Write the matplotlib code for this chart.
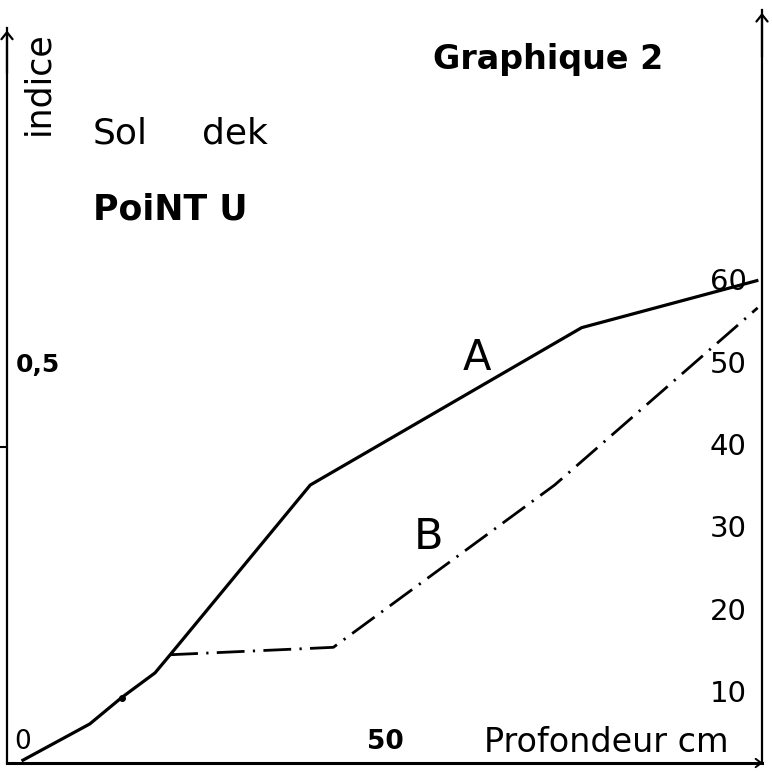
import numpy as np
import matplotlib
matplotlib.use("Agg")
import matplotlib.pyplot as plt

# depth (cm) vs value (right-hand scale, 0-60 ; indice = value / 100)
depth_A = [2.0, 10.4, 14.4, 18.6, 20.5, 38.1, 72.2, 94.2]
val_A = [2.0, 6.4, 9.6, 12.6, 14.8, 35.4, 54.5, 60.2]
depth_B = [20.5, 41.0, 68.8, 94.3]
val_B = [14.8, 15.7, 35.4, 56.9]

right_ticks = [10, 20, 30, 40, 50, 60]
right_labels = ["10", "20", "30", "40", "50", "60"]
left_tick = 0.4
left_label_val = 0.5
left_label = "0,5"
depth_label_val = 50

plt.rcParams['font.family'] = ['DejaVu Sans']

W = 772
fig = plt.figure(figsize=(7.72, 7.72), dpi=100)
ax = fig.add_axes([7 / W, 9 / W, 755 / W, 753 / W])
ax.set_xlim(0, 94.85)
ax.set_ylim(1.66, 93.05)

# axes
ax.spines['top'].set_visible(False)
for s in ['left', 'right']:
    ax.spines[s].set_linewidth(1.6)
ax.spines['bottom'].set_linewidth(2.2)
ax.spines['left'].set_bounds(1.66, 90.9)
ax.set_xticks([])
ax.set_yticks([left_tick * 100])
ax.set_yticklabels([])
ax.yaxis.set_ticks_position('left')
ax.tick_params(axis='y', direction='out', length=5, width=1.5)

arrow = dict(arrowstyle='->,head_length=0.5,head_width=0.4', lw=1.6, color='black')
ax.annotate('', xy=(0, 90.9), xytext=(0, 85), arrowprops=arrow, annotation_clip=False)
ax.annotate('', xy=(94.85, 93.05), xytext=(94.85, 87), arrowprops=arrow, annotation_clip=False)
ax.annotate('', xy=(95.3, 1.66), xytext=(92, 1.66),
            arrowprops=dict(arrowstyle='->,head_length=0.4,head_width=0.3', lw=1.4, color='black'),
            annotation_clip=False)

# curves
ax.plot(depth_A, val_A, color='black', lw=2.3, marker='o', markersize=4, markevery=[2],
        solid_joinstyle='round', clip_on=False)
ax.plot(depth_B, val_B, color='black', lw=2.0, linestyle=(0, (10, 3, 0.8, 3)), clip_on=False)

# right-hand scale labels
ytr = ax.get_yaxis_transform()
for v, lab in zip(right_ticks, right_labels):
    ax.text(0.955, v, lab, transform=ytr, ha='center', va='center', fontsize=21)
ax.text(0.011, left_label_val * 100, left_label, transform=ytr, ha='left', va='center',
        fontsize=18, fontweight='bold')

# bottom labels
ax.text(2.0, 4.2, "0", ha='center', va='center', fontsize=19)
ax.text(depth_label_val - 2.5, 4.2, "50", ha='center', va='center', fontsize=19, fontweight='bold')
ax.text(0.794, 4.2, "Profondeur cm", transform=ytr, ha='center', va='center', fontsize=24)

# titles / annotations
fig.text(38 / W, 1 - 83 / W, "indice", rotation=90, ha='center', va='center', fontsize=25)
fig.text(548 / W, 1 - 60 / W, "Graphique 2", ha='center', va='center', fontsize=24,
         fontweight='bold')
fig.text(93 / W, 1 - 134 / W, "Sol", ha='left', va='center', fontsize=26)
fig.text(202 / W, 1 - 134 / W, "dek", ha='left', va='center', fontsize=26)
fig.text(93 / W, 1 - 209 / W, "PoiNT U", ha='left', va='center', fontsize=25, fontweight='bold')
fig.text(477 / W, 1 - 358 / W, "A", ha='center', va='center', fontsize=30)
fig.text(428 / W, 1 - 537 / W, "B", ha='center', va='center', fontsize=31)

fig.savefig("out.png", dpi=100, facecolor='white')
